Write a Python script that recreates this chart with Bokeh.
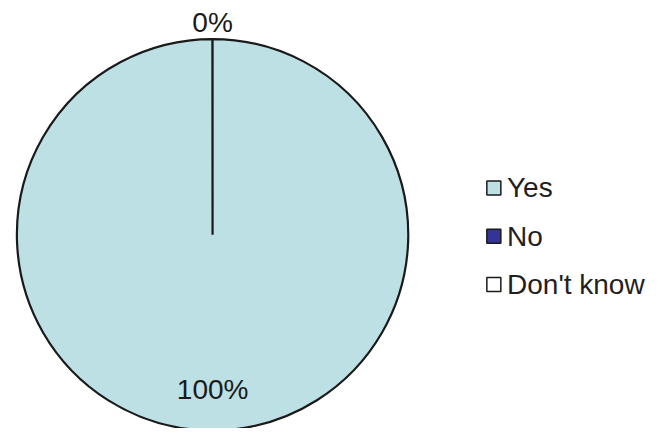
import numpy as np
from bokeh.plotting import figure
from bokeh.models import Range1d, ColumnDataSource
from bokeh.core.properties import value
from bokeh.embed import file_html
from bokeh.resources import INLINE

# ---- data ----
categories = ["Yes", "No", "Don't know"]
percent = [100, 0, 0]
labels = ["100%", "0%", "0%"]
colors = ["#BDE0E4", "#333399", "#FFFFFF"]

W, H = 649, 428
p = figure(width=W, height=H, output_backend="svg", toolbar_location=None,
           x_range=Range1d(0, 665), y_range=Range1d(0, 444), min_border=0)
p.axis.visible = False
p.grid.visible = False
p.outline_line_color = None
p.background_fill_color = "white"

FONT = "Liberation Sans"
FS = "28px"

cx, cy, r = 217.3, 201.0, 200.5
frac = np.array(percent, dtype=float) / sum(percent)
cum = np.concatenate([[0.0], np.cumsum(frac)])
start = np.pi / 2 - 2 * np.pi * cum[:-1]
end = np.pi / 2 - 2 * np.pi * cum[1:]
# keep a full circle drawable
end = np.where(start - end >= 2 * np.pi, end + 1e-3, end)

nz = [i for i in range(len(categories)) if frac[i] > 0]
src = ColumnDataSource(dict(x=[cx] * len(nz), y=[cy] * len(nz),
                            start=start[nz], end=end[nz],
                            color=[colors[i] for i in nz]))
p.wedge(x="x", y="y", radius=r, start_angle="start", end_angle="end",
        direction="clock", fill_color="color", line_color="#1a1a1a",
        line_width=2.2, source=src)

# data labels
mid = (start + end) / 2
lr = np.where(frac > 0, 0.8 * r, 1.1 * r)
lx = cx + lr * np.cos(mid)
ly = cy + lr * np.sin(mid)
seen = set()
keep = []
for i in range(len(categories)):
    key = (round(lx[i], 1), round(ly[i], 1))
    if key not in seen:
        seen.add(key)
        keep.append(i)
lsrc = ColumnDataSource(dict(x=lx[keep], y=ly[keep], t=[labels[i] for i in keep]))
p.text(x="x", y="y", text="t", source=lsrc, text_font=value(FONT),
       text_font_size=FS, text_align="center", text_baseline="middle",
       text_color="#1a1a1a")

# legend
leg_x = 505.5
leg_y = [249.5 - 50 * i for i in range(len(categories))]
gsrc = ColumnDataSource(dict(x=[leg_x] * len(categories), y=leg_y,
                             color=colors, cat=categories,
                             tx=[leg_x + 13.5] * len(categories)))
p.scatter(x="x", y="y", marker="square", size=14, fill_color="color",
          line_color="#1a1a1a", line_width=1.5, source=gsrc)
p.text(x="tx", y="y", text="cat", source=gsrc, text_font=value(FONT),
       text_font_size=FS, text_align="left", text_baseline="middle",
       text_color="#231f20")

open("out.html", "w").write(file_html(p, INLINE))
